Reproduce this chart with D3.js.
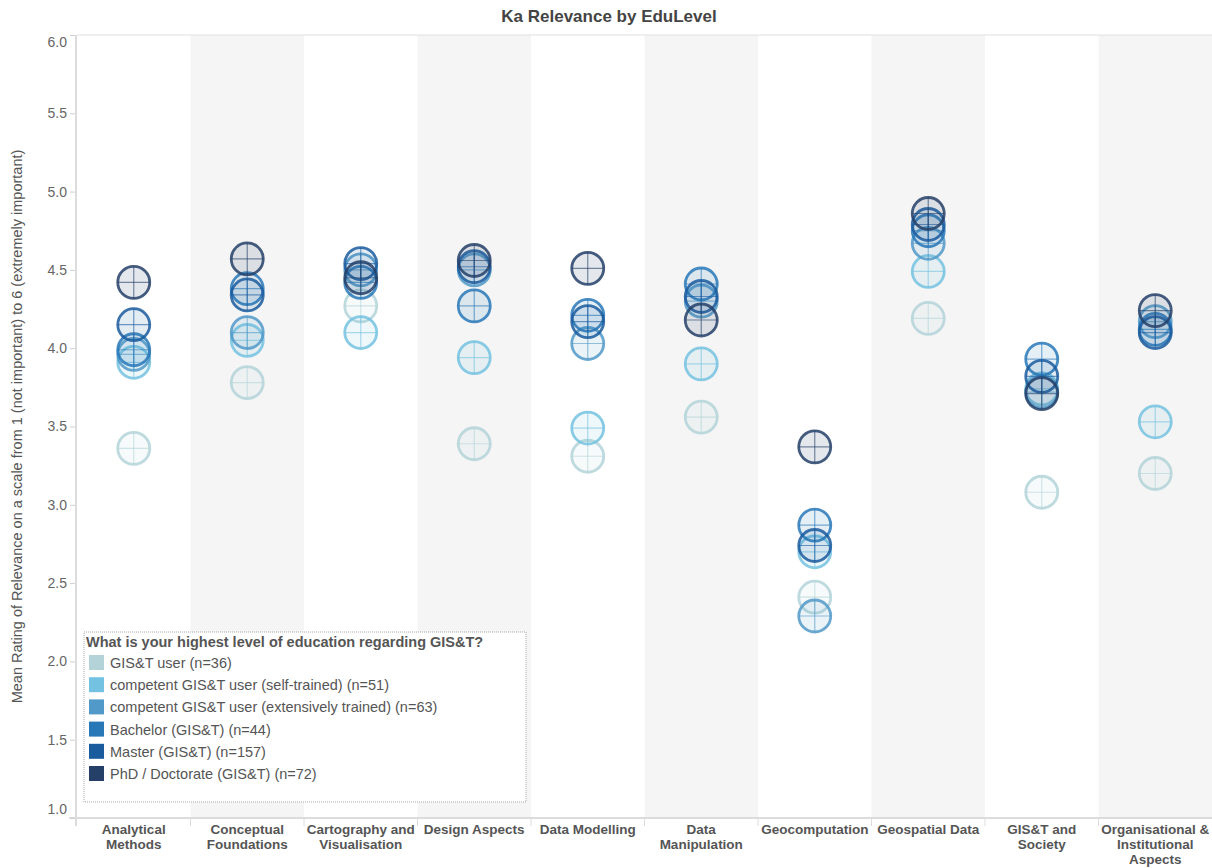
<!DOCTYPE html>
<html>
<head>
<meta charset="utf-8">
<title>Ka Relevance by EduLevel</title>
<script src="https://d3js.org/d3.v7.min.js"></script>
<style>
  body { margin: 0; background: #fff; }
  text { font-family: Arial, "Liberation Sans", sans-serif; }
</style>
</head>
<body>
<div id="chart"></div>
<script>
// knowledge areas (x columns)
var categories = ["Analytical Methods", "Conceptual Foundations", "Cartography and Visualisation",
  "Design Aspects", "Data Modelling", "Data Manipulation", "Geocomputation",
  "Geospatial Data", "GIS&T and Society", "Organisational & Institutional Aspects"];
var categoryLines = [["Analytical", "Methods"], ["Conceptual", "Foundations"], ["Cartography and", "Visualisation"],
  ["Design Aspects"], ["Data Modelling"], ["Data", "Manipulation"], ["Geocomputation"],
  ["Geospatial Data"], ["GIS&T and", "Society"], ["Organisational &", "Institutional", "Aspects"]];

// education levels (legend)
var levels = ["GIS&T user (n=36)", "competent GIS&T user (self-trained) (n=51)",
  "competent GIS&T user (extensively trained) (n=63)", "Bachelor (GIS&T) (n=44)",
  "Master (GIS&T) (n=157)", "PhD / Doctorate (GIS&T) (n=72)"];
var levelColors = ["#b3d3d9", "#74c2e1", "#5199c8", "#2878b8", "#1a5b9e", "#243f68"];

// mean ratings, one array per level, in category order
var userVals      = [3.36, 3.78, 4.27, 3.39, 3.31, 3.56, 2.41, 4.19, 3.08, 3.20];
var selfVals      = [3.91, 4.05, 4.10, 3.94, 3.49, 3.90, 2.70, 4.49, 3.74, 3.53];
var extensiveVals = [3.96, 4.10, 4.50, 4.50, 4.03, 4.30, 2.29, 4.67, 3.72, 4.17];
var bachelorVals  = [3.99, 4.38, 4.42, 4.27, 4.21, 4.41, 2.87, 4.75, 3.93, 4.12];
var masterVals    = [4.15, 4.34, 4.54, 4.52, 4.17, 4.33, 2.74, 4.79, 3.82, 4.10];
var phdVals       = [4.42, 4.57, 4.45, 4.56, 4.51, 4.18, 3.37, 4.86, 3.71, 4.24];
var seriesVals = [userVals, selfVals, extensiveVals, bachelorVals, masterVals, phdVals];

var yTicks = [1.0, 1.5, 2.0, 2.5, 3.0, 3.5, 4.0, 4.5, 5.0, 5.5, 6.0];

var width = 1212, height = 868,
    margin = {top: 35, right: 0, bottom: 50, left: 77};

var svg = d3.select("#chart").append("svg")
  .attr("width", width)
  .attr("height", height);

var x = d3.scaleBand()
  .domain(categories)
  .range([margin.left, width - margin.right]);

var y = d3.scaleLinear()
  .domain([1, 6])
  .range([height - margin.bottom, margin.top]);

// alternating column bands
svg.selectAll("rect.band")
  .data(categories)
  .enter()
  .append("rect")
  .attr("class", "band")
  .attr("x", function(d) { return x(d); })
  .attr("y", margin.top)
  .attr("width", x.bandwidth())
  .attr("height", y(1) - y(6))
  .style("fill", function(d, i) { return i % 2 ? "#f5f5f5" : "#fff"; });

// frame
svg.append("line")
  .attr("x1", margin.left).attr("x2", width)
  .attr("y1", y(6)).attr("y2", y(6))
  .style("stroke", "#e0e0e0");
svg.append("line")
  .attr("x1", margin.left - 1).attr("x2", margin.left - 1)
  .attr("y1", y(6)).attr("y2", y(1) + 8)
  .style("stroke", "#dcdcdc").style("stroke-width", 2);
svg.append("line")
  .attr("x1", margin.left - 8).attr("x2", width)
  .attr("y1", y(1)).attr("y2", y(1))
  .style("stroke", "#dcdcdc").style("stroke-width", 2);

// y axis
var yAxis = svg.append("g")
  .attr("transform", "translate(" + (margin.left - 2) + ",0)")
  .call(d3.axisLeft(y).tickValues(yTicks).tickFormat(d3.format(".1f")).tickSize(5).tickPadding(3));
yAxis.select(".domain").remove();
yAxis.selectAll("line").style("stroke", "#d0d0d0");
yAxis.selectAll("text")
  .style("font-size", "14px")
  .style("fill", "#666")
  .attr("dy", function(d) { return d === 1 ? "-0.35em" : d === 6 ? "0.85em" : "0.32em"; });

svg.append("text")
  .attr("transform", "translate(22," + ((y(1) + y(6)) / 2) + ") rotate(-90)")
  .attr("text-anchor", "middle")
  .style("font-size", "14.5px")
  .style("fill", "#555")
  .text("Mean Rating of Relevance on a scale from 1 (not important) to 6 (extremely important)");

// x column separators and labels
svg.selectAll("line.xtick")
  .data(categories.slice(1))
  .enter()
  .append("line")
  .attr("x1", function(d) { return x(d); })
  .attr("x2", function(d) { return x(d); })
  .attr("y1", y(1)).attr("y2", y(1) + 8)
  .style("stroke", "#dcdcdc");

var xLabels = svg.selectAll("text.xlabel")
  .data(categories)
  .enter()
  .append("text")
  .attr("class", "xlabel")
  .attr("text-anchor", "middle")
  .style("font-size", "13.5px")
  .style("font-weight", "bold")
  .style("fill", "#555");
xLabels.each(function(d, i) {
  var t = d3.select(this);
  categoryLines[i].forEach(function(line, j) {
    t.append("tspan")
      .attr("x", x(d) + x.bandwidth() / 2)
      .attr("y", y(1) + 16 + j * 15)
      .text(line);
  });
});

// title
svg.append("text")
  .attr("x", 609)
  .attr("y", 22)
  .attr("text-anchor", "middle")
  .style("font-size", "17px")
  .style("font-weight", "bold")
  .style("fill", "#444")
  .text("Ka Relevance by EduLevel");

// circle marks with crosshairs
var r = 16;
seriesVals.forEach(function(vals, s) {
  var color = levelColors[s];
  var g = svg.append("g").attr("class", "series" + s);
  var marks = g.selectAll("g")
    .data(vals)
    .enter()
    .append("g")
    .attr("transform", function(d, i) {
      return "translate(" + (x(categories[i]) + x.bandwidth() / 2) + "," + y(d) + ")";
    });
  marks.append("circle")
    .attr("r", r)
    .style("fill", color)
    .style("fill-opacity", 0.12)
    .style("stroke", color)
    .style("stroke-width", 2.8)
    .style("stroke-opacity", 0.85);
  marks.append("line")
    .attr("x1", -r).attr("x2", r)
    .style("stroke", color).style("stroke-opacity", 0.6).style("stroke-width", 1.2);
  marks.append("line")
    .attr("y1", -r).attr("y2", r)
    .style("stroke", color).style("stroke-opacity", 0.6).style("stroke-width", 1.2);
});

// legend
var legend = svg.append("g").attr("transform", "translate(84,632)");
legend.append("rect")
  .attr("x", 0).attr("y", 0)
  .attr("width", 442).attr("height", 170)
  .style("fill", "#fff")
  .style("stroke", "#aaa")
  .style("stroke-dasharray", "1,1");
legend.append("text")
  .attr("x", 2).attr("y", 15)
  .style("font-size", "14.5px")
  .style("font-weight", "bold")
  .style("fill", "#555")
  .text("What is your highest level of education regarding GIS&T?");
var items = legend.selectAll("g.item")
  .data(levels)
  .enter()
  .append("g")
  .attr("class", "item")
  .attr("transform", function(d, i) { return "translate(5," + (23 + i * 22.2) + ")"; });
items.append("rect")
  .attr("width", 15).attr("height", 15)
  .style("fill", function(d, i) { return levelColors[i]; });
items.append("text")
  .attr("x", 21).attr("y", 13)
  .style("font-size", "14.5px")
  .style("fill", "#555")
  .text(function(d) { return d; });
</script>
</body>
</html>
